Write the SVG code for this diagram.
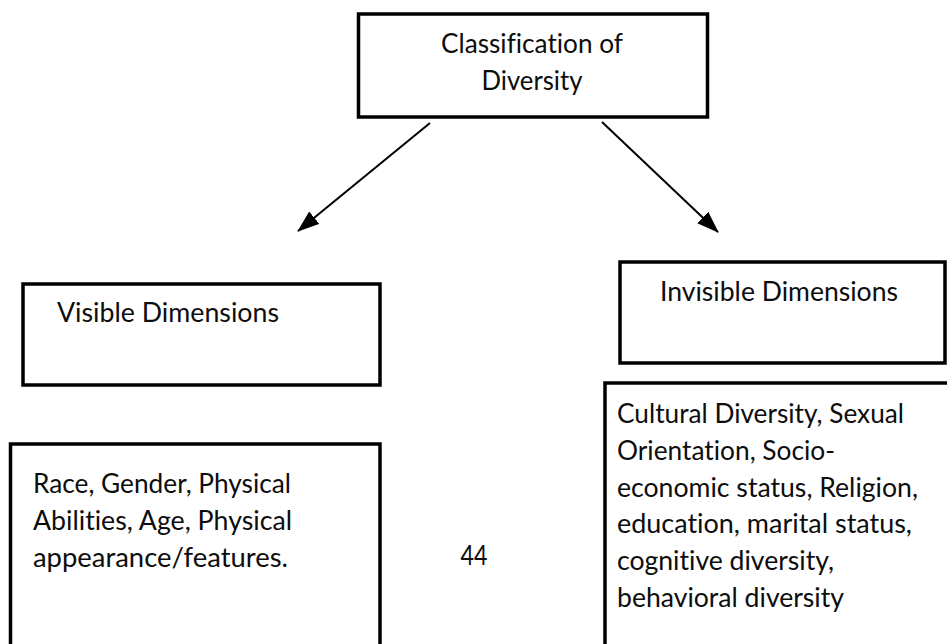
<svg xmlns="http://www.w3.org/2000/svg" width="947" height="644" viewBox="0 0 947 644">
  <style>
    .box { fill: #ffffff; stroke: #000000; stroke-width: 3.5; }
    .lbl { font-family: Lato, "Open Sans", "Liberation Sans", sans-serif; font-size: 26px; fill: #0d0d0d; font-variant-ligatures: none; font-feature-settings: "liga" 0; }
    .link { stroke: #000000; stroke-width: 2; fill: none; }
  </style>
  <defs>
    <marker id="arrowhead" viewBox="0 0 22 16" refX="21" refY="8" markerWidth="22" markerHeight="16" markerUnits="userSpaceOnUse" orient="auto">
      <path d="M0,0 L22,8 L0,16 z" fill="#000000"/>
    </marker>
  </defs>

  <rect width="947" height="644" fill="#ffffff"/>

  <!-- root -->
  <g id="classification">
    <rect class="box" x="358.5" y="14" width="349" height="103"/>
    <text class="lbl" x="532" y="53" text-anchor="middle" textLength="182" lengthAdjust="spacingAndGlyphs">Classification of</text>
    <text class="lbl" x="532" y="90" text-anchor="middle" textLength="101" lengthAdjust="spacingAndGlyphs">Diversity</text>
  </g>

  <!-- branch headings -->
  <g id="visible">
    <rect class="box" x="23" y="284" width="357" height="101"/>
    <text class="lbl" x="57" y="322" textLength="222" lengthAdjust="spacingAndGlyphs">Visible Dimensions</text>
  </g>
  <g id="invisible">
    <rect class="box" x="620" y="262" width="325" height="101"/>
    <text class="lbl" x="660" y="301" textLength="238" lengthAdjust="spacingAndGlyphs">Invisible Dimensions</text>
  </g>

  <!-- detail boxes (running past the page edge) -->
  <g id="visible-items">
    <rect class="box" x="10.5" y="444" width="369.5" height="230"/>
    <text class="lbl" x="33" y="493" textLength="258" lengthAdjust="spacingAndGlyphs">Race, Gender, Physical</text>
    <text class="lbl" x="33" y="530" textLength="259" lengthAdjust="spacingAndGlyphs">Abilities, Age, Physical</text>
    <text class="lbl" x="33" y="567" textLength="255" lengthAdjust="spacingAndGlyphs">appearance/features.</text>
  </g>
  <g id="invisible-items">
    <rect class="box" x="605" y="383" width="370" height="290"/>
    <text class="lbl" x="617" y="423" textLength="287" lengthAdjust="spacingAndGlyphs">Cultural Diversity, Sexual</text>
    <text class="lbl" x="617" y="460" textLength="218" lengthAdjust="spacingAndGlyphs">Orientation, Socio-</text>
    <text class="lbl" x="617" y="497" textLength="301" lengthAdjust="spacingAndGlyphs">economic status, Religion,</text>
    <text class="lbl" x="617" y="533" textLength="295" lengthAdjust="spacingAndGlyphs">education, marital status,</text>
    <text class="lbl" x="617" y="570" textLength="217" lengthAdjust="spacingAndGlyphs">cognitive diversity,</text>
    <text class="lbl" x="617" y="607" textLength="227" lengthAdjust="spacingAndGlyphs">behavioral diversity</text>
  </g>

  <!-- page number -->
  <g id="page-number">
    <text class="lbl" x="474" y="565" text-anchor="middle" textLength="27" lengthAdjust="spacingAndGlyphs">44</text>
  </g>

  <g id="connectors">
    <line class="link" x1="430" y1="123" x2="298" y2="231" marker-end="url(#arrowhead)"/>
    <line class="link" x1="602" y1="122" x2="718" y2="232" marker-end="url(#arrowhead)"/>
  </g>
</svg>
